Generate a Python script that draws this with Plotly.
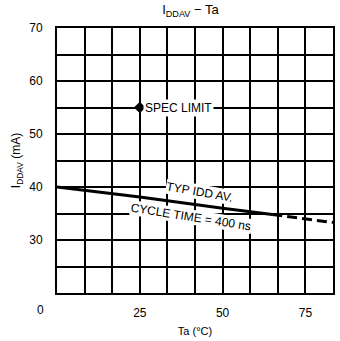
import plotly.graph_objects as go

# Data
ta_solid = [0, 25, 50, 65]
idd_solid = [40.0, 38.1, 36.0, 34.8]
ta_dash = [65, 75, 83.33]
idd_dash = [34.8, 34.0, 33.3]
spec_ta = [25]
spec_idd = [55]

x_ticks = [25, 50, 75]
x_ticklabels = ["25", "50", "75"]
x_grid = [i * 25 / 3 for i in range(11)]
y_ticks = [30, 40, 50, 60, 70]
y_ticklabels = ["30", "40", "50", "60", "70"]
y_grid = list(range(20, 75, 5))

FONT = "Liberation Sans, Arial, Helvetica, sans-serif"

fig = go.Figure()
fig.add_trace(go.Scatter(x=ta_solid, y=idd_solid, mode="lines",
                         line=dict(color="black", width=3), showlegend=False))
fig.add_trace(go.Scatter(x=ta_dash, y=idd_dash, mode="lines",
                         line=dict(color="black", width=3, dash="10px,5px"), showlegend=False))
fig.add_trace(go.Scatter(x=spec_ta, y=spec_idd, mode="markers",
                         marker=dict(symbol="diamond", size=9, color="black"), showlegend=False))

fig.add_annotation(x=spec_ta[0], y=spec_idd[0], text="SPEC LIMIT", showarrow=False,
                   xanchor="left", xshift=3, bgcolor="white",
                   font=dict(size=12, color="black", family=FONT))
fig.add_annotation(x=43, y=39.0, text="TYP IDD AV.", showarrow=False, textangle=10,
                   bgcolor="white", borderpad=0,
                   font=dict(size=12, color="black", family=FONT))
fig.add_annotation(x=40.5, y=34.3, text="CYCLE TIME = 400 ns", showarrow=False, textangle=9,
                   bgcolor="white", borderpad=0,
                   font=dict(size=12, color="black", family=FONT))
# origin label
fig.add_annotation(xref="paper", yref="paper", x=-0.061, y=-0.064, text="0", showarrow=False,
                   xanchor="center", yanchor="middle",
                   font=dict(size=12, color="black", family=FONT))

axis_common = dict(showgrid=True, gridcolor="black", gridwidth=1.5, showline=True,
                   linecolor="black", linewidth=2, mirror=True, ticks="", zeroline=False,
                   tickfont=dict(size=12, color="black", family=FONT))

fig.update_layout(
    width=340, height=341,
    margin=dict(l=57, r=5, t=28, b=48),
    paper_bgcolor="white", plot_bgcolor="white",
    title=dict(text="I<sub>DDAV</sub> − Ta", x=0.56, xanchor="center", y=0.985, yanchor="top",
               font=dict(size=13, color="black", family=FONT)),
    xaxis=dict(range=[0, 250 / 3], tickvals=x_ticks, ticktext=x_ticklabels,
               ticklabelstandoff=8,
               minor=dict(tickvals=x_grid, showgrid=True, gridcolor="black", gridwidth=1.5, ticks=""),
               title=dict(text="Ta (°C)", standoff=8, font=dict(size=11, color="black", family=FONT)),
               **axis_common),
    yaxis=dict(range=[20, 70], tickvals=y_ticks, ticktext=y_ticklabels,
               ticklabelstandoff=10,
               minor=dict(tickvals=y_grid, showgrid=True, gridcolor="black", gridwidth=1.5, ticks=""),
               title=dict(text="I<sub>DDAV</sub> (mA)", standoff=6, font=dict(size=12, color="black", family=FONT)),
               **axis_common),
)

fig.write_html("out.html")
